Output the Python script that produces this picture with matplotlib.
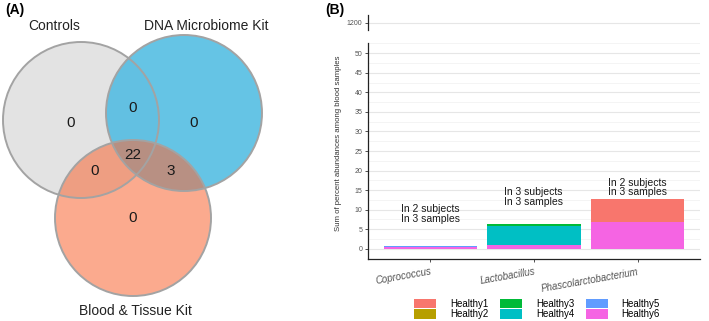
import matplotlib
matplotlib.use("Agg")
import matplotlib.pyplot as plt
from matplotlib.patches import Circle, Patch

plt.rcParams["font.family"] = ["Liberation Sans", "DejaVu Sans"]

# Venn data
set_names = ["Controls", "DNA Microbiome Kit", "Blood & Tissue Kit"]
# regions: A only, B only, C only, AB, AC, BC, ABC
venn_counts = [0, 0, 0, 0, 0, 3, 22]

# bar data
genera = ["Coprococcus", "Lactobacillus", "Phascolarctobacterium"]
subjects = ["Healthy1", "Healthy2", "Healthy3", "Healthy4", "Healthy5", "Healthy6"]
abund = {
    "Healthy1": [0.0, 0.0, 5.8],
    "Healthy2": [0.0, 0.0, 0.0],
    "Healthy3": [0.0, 0.35, 0.0],
    "Healthy4": [0.0, 4.85, 0.0],
    "Healthy5": [0.2, 0.0, 0.0],
    "Healthy6": [0.4, 1.1, 6.9],
}
n_subjects = [2, 3, 2]
n_samples = [3, 3, 3]
label_y = [8.9, 13.2, 15.7]
colors = ["#F8766D", "#B79F00", "#00BA38", "#00BFC4", "#619CFF", "#F564E3"]

W, H = 709, 321
fig = plt.figure(figsize=(W / 100, H / 100), dpi=100)

# ---- panel A: venn ----
axv = fig.add_axes([0, 0, 360 / W, 1])
axv.set_xlim(0, 360)
axv.set_ylim(H, 0)
axv.axis("off")

r = 78
centers = [(81, 120), (184, 113), (133, 218)]
fills = [("#E3E3E3", 1.0), ("#50BCE2", 0.88), ("#F86A39", 0.57)]
for (cx, cy), (fc, a) in zip(centers, fills):
    axv.add_patch(Circle((cx, cy), r, facecolor=fc, alpha=a, edgecolor="none"))
for cx, cy in centers:
    axv.add_patch(Circle((cx, cy), r, facecolor="none", edgecolor="#A3A3A3", lw=1.4))

count_pos = [(71, 123), (194, 123), (133, 218), (133, 108), (95, 171), (171, 171), (133, 155)]
for (x, y), v in zip(count_pos, venn_counts):
    axv.text(x, y, str(v), ha="center", va="center", fontsize=11, color="#1a1a1a")

axv.text(54, 26, set_names[0], ha="center", va="center", fontsize=10, color="#222222")
axv.text(206, 26, set_names[1], ha="center", va="center", fontsize=10, color="#222222")
axv.text(135, 311, set_names[2], ha="center", va="center", fontsize=10, color="#222222")
fig.text(5 / W, 1 - 10 / H, "(A)", fontsize=10, fontweight="bold", va="center")
fig.text(325 / W, 1 - 10 / H, "(B)", fontsize=10, fontweight="bold", va="center")

# ---- panel B: broken-axis stacked bars ----
left = 368 / W
width = 332 / W
ax = fig.add_axes([left, 1 - 259 / H, width, 216 / H])
axt = fig.add_axes([left, 1 - 30 / H, width, 15 / H])

x = [1, 2, 3]
bottom = [0.0, 0.0, 0.0]
for name, col in zip(subjects[::-1], colors[::-1]):
    vals = abund[name]
    ax.bar(x, vals, bottom=bottom, width=0.9, color=col, zorder=3)
    bottom = [b + v for b, v in zip(bottom, vals)]

for xi, yi, s, n in zip(x, label_y, n_subjects, n_samples):
    ax.text(xi, yi, f"In {s} subjects\nIn {n} samples", ha="center", va="center",
            multialignment="left", fontsize=7.5, linespacing=0.95,
            color="#1a1a1a", zorder=4)

for a in (ax, axt):
    a.set_xlim(0.4, 3.6)
    a.set_facecolor("white")
    for sp in ["top", "right"]:
        a.spines[sp].set_visible(False)
    a.spines["left"].set_color("#222222")
    a.spines["left"].set_linewidth(0.9)
    a.tick_params(axis="y", length=2.5, width=0.6, color="#333333",
                  labelsize=5, labelcolor="#555555", pad=1.5)
    a.grid(axis="y", which="major", color="#E6E6E6", lw=0.8, zorder=0)
    a.grid(axis="y", which="minor", color="#F3F3F3", lw=0.6, zorder=0)

ax.set_ylim(-2.6, 52.6)
ax.set_yticks(range(0, 51, 5))
ax.set_yticks([v + 2.5 for v in range(0, 51, 5)], minor=True)
ax.tick_params(axis="y", which="minor", length=0)
ax.spines["bottom"].set_color("#222222")
ax.spines["bottom"].set_linewidth(0.9)
ax.set_xticks(x)
ax.set_xticklabels(genera, rotation=10, ha="right", rotation_mode="anchor",
                   fontstyle="italic", fontsize=7, color="#555555")
ax.tick_params(axis="x", length=2.5, width=0.6, color="#333333", pad=3)

axt.set_ylim(1190, 1210)
axt.set_yticks([1200])
axt.spines["bottom"].set_visible(False)
axt.set_xticks([])

fig.text(339 / W, 1 - 143 / H, "Sum of percent abundances among blood samples",
         rotation=90, ha="center", va="center", fontsize=5.6, color="#333333")

handles = [Patch(facecolor=c, edgecolor="none") for c in colors]
fig.legend(handles, subjects, ncol=3, loc="center", bbox_to_anchor=(537 / W, 1 - 309 / H),
           frameon=False, fontsize=7, handlelength=2.3, handleheight=1.1,
           handletextpad=1.4, columnspacing=1.2, labelspacing=0.05)

fig.savefig("out.png", dpi=100)
